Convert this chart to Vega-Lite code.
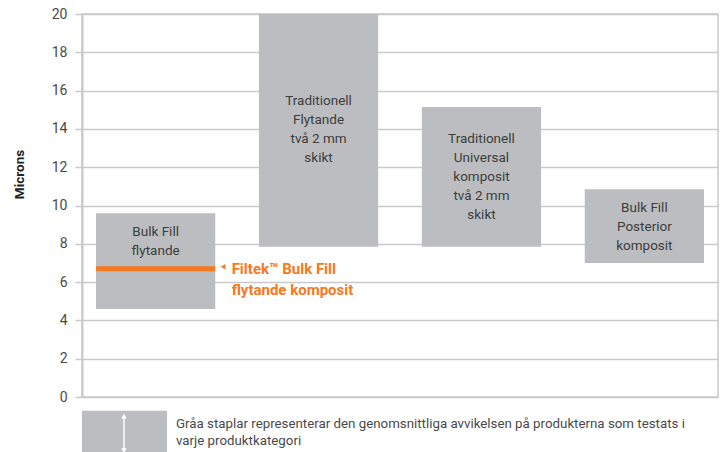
{
  "$schema": "https://vega.github.io/schema/vega-lite/v6.json",
  "width": 636,
  "height": 383,
  "autosize": {"type": "none"},
  "padding": {"left": 82, "top": 14, "right": 6, "bottom": 55},
  "config": {
    "view": {"stroke": "#c8c9cb", "strokeWidth": 1.5},
    "font": "Roboto, Liberation Sans, sans-serif",
    "axisY": {
      "tickCount": 10,
      "labelOverlap": false,
      "gridColor": "#c8c9cb", "gridWidth": 1.5, "gridOpacity": 1,
      "tickColor": "#c8c9cb", "tickWidth": 1.5, "tickSize": 7,
      "domainColor": "#c8c9cb", "domainWidth": 2,
      "labelFontSize": 14, "labelColor": "#4a4a4a", "labelPadding": 8,
      "titleFontSize": 13.5, "titleFontWeight": "bold", "titleColor": "#222222",
      "titleX": -63, "titleY": 160, "titleAlign": "center", "titleBaseline": "middle", "titleAngle": -90
    }
  },
  "datasets": {
    "bars": [
      {"kategori": "Bulk Fill flytande", "low": 4.6, "high": 9.6, "label": "Bulk Fill|flytande"},
      {"kategori": "Traditionell Flytande", "low": 7.85, "high": 20, "label": "Traditionell|Flytande|två 2 mm|skikt"},
      {"kategori": "Traditionell Universal", "low": 7.85, "high": 15.15, "label": "Traditionell|Universal|komposit|två 2 mm|skikt"},
      {"kategori": "Bulk Fill Posterior", "low": 7.0, "high": 10.85, "label": "Bulk Fill|Posterior|komposit"}
    ],
    "filtek": [
      {"kategori": "Bulk Fill flytande", "value": 6.7, "label": "Filtek™ Bulk Fill|flytande komposit"}
    ],
    "legend": [
      {"text": "Gråa staplar representerar den genomsnittliga avvikelsen på produkterna som testats i|varje produktkategori"}
    ]
  },
  "layer": [
    {
      "layer": [
        {
          "data": {"name": "bars"},
          "mark": {"type": "bar", "color": "#bcbdc0"},
          "encoding": {
            "x": {
              "field": "kategori", "type": "nominal", "sort": null,
              "scale": {"paddingInner": 0.268, "paddingOuter": 0.086},
              "axis": null
            },
            "y": {
              "field": "low", "type": "quantitative",
              "scale": {"domain": [0, 20], "nice": false},
              "title": "Microns"
            },
            "y2": {"field": "high"}
          }
        },
        {
          "data": {"name": "bars"},
          "transform": [
            {"filter": "datum.kategori === 'Bulk Fill flytande'"},
            {"fold": ["low", "high"]}
          ],
          "mark": {"type": "text", "lineBreak": "|", "lineHeight": 19, "fontSize": 13.5, "color": "#3d3d3d", "baseline": "middle", "dy": -29},
          "encoding": {
            "x": {"field": "kategori", "type": "nominal", "sort": null},
            "y": {"aggregate": "mean", "field": "value", "type": "quantitative", "title": "Microns"},
            "text": {"field": "label"}
          }
        },
        {
          "data": {"name": "bars"},
          "transform": [
            {"filter": "datum.kategori === 'Traditionell Flytande'"},
            {"fold": ["low", "high"]}
          ],
          "mark": {"type": "text", "lineBreak": "|", "lineHeight": 19, "fontSize": 13.5, "color": "#3d3d3d", "baseline": "middle", "dy": -29},
          "encoding": {
            "x": {"field": "kategori", "type": "nominal", "sort": null},
            "y": {"aggregate": "mean", "field": "value", "type": "quantitative", "title": "Microns"},
            "text": {"field": "label"}
          }
        },
        {
          "data": {"name": "bars"},
          "transform": [
            {"filter": "datum.kategori === 'Traditionell Universal'"},
            {"fold": ["low", "high"]}
          ],
          "mark": {"type": "text", "lineBreak": "|", "lineHeight": 19, "fontSize": 13.5, "color": "#3d3d3d", "baseline": "middle", "dy": -38},
          "encoding": {
            "x": {"field": "kategori", "type": "nominal", "sort": null},
            "y": {"aggregate": "mean", "field": "value", "type": "quantitative", "title": "Microns"},
            "text": {"field": "label"}
          }
        },
        {
          "data": {"name": "bars"},
          "transform": [
            {"filter": "datum.kategori === 'Bulk Fill Posterior'"},
            {"fold": ["low", "high"]}
          ],
          "mark": {"type": "text", "lineBreak": "|", "lineHeight": 19, "fontSize": 13.5, "color": "#3d3d3d", "baseline": "middle", "dy": -18},
          "encoding": {
            "x": {"field": "kategori", "type": "nominal", "sort": null},
            "y": {"aggregate": "mean", "field": "value", "type": "quantitative", "title": "Microns"},
            "text": {"field": "label"}
          }
        },
        {
          "data": {"name": "filtek"},
          "mark": {"type": "tick", "orient": "horizontal", "thickness": 5, "size": 119, "color": "#f47920", "opacity": 1},
          "encoding": {
            "x": {"field": "kategori", "type": "nominal", "sort": null},
            "y": {"field": "value", "type": "quantitative", "title": "Microns"}
          }
        },
        {
          "data": {"name": "filtek"},
          "mark": {"type": "point", "shape": "triangle-left", "filled": true, "size": 30, "color": "#f47920", "opacity": 1, "xOffset": 67.5, "yOffset": -2},
          "encoding": {
            "x": {"field": "kategori", "type": "nominal", "sort": null},
            "y": {"field": "value", "type": "quantitative", "title": "Microns"}
          }
        },
        {
          "data": {"name": "filtek"},
          "mark": {"type": "text", "lineBreak": "|", "lineHeight": 21, "fontSize": 15, "fontWeight": "bold", "color": "#f47920", "align": "left", "baseline": "middle", "dx": 76},
          "encoding": {
            "x": {"field": "kategori", "type": "nominal", "sort": null},
            "y": {"field": "value", "type": "quantitative", "title": "Microns"},
            "text": {"field": "label"}
          }
        }
      ]
    },
    {
      "data": {"name": "legend"},
      "layer": [
        {
          "mark": {"type": "rect", "color": "#bcbdc0", "clip": false},
          "encoding": {
            "x": {"datum": 0, "type": "quantitative", "scale": {"domain": [0, 1], "nice": false, "zero": false}, "axis": null},
            "x2": {"datum": 0.1336},
            "y": {"datum": -0.715, "type": "quantitative", "title": "Microns"},
            "y2": {"datum": -2.95}
          }
        },
        {
          "mark": {"type": "rule", "color": "#ffffff", "strokeWidth": 1.5},
          "encoding": {
            "x": {"datum": 0.066, "type": "quantitative"},
            "y": {"datum": -1.05, "type": "quantitative", "title": "Microns"},
            "y2": {"datum": -2.75}
          }
        },
        {
          "mark": {"type": "point", "shape": "triangle-up", "filled": true, "size": 30, "color": "#ffffff", "opacity": 1},
          "encoding": {
            "x": {"datum": 0.066, "type": "quantitative"},
            "y": {"datum": -1.0, "type": "quantitative", "title": "Microns"}
          }
        },
        {
          "mark": {"type": "point", "shape": "triangle-down", "filled": true, "size": 30, "color": "#ffffff", "opacity": 1},
          "encoding": {
            "x": {"datum": 0.066, "type": "quantitative"},
            "y": {"datum": -2.8, "type": "quantitative", "title": "Microns"}
          }
        },
        {
          "mark": {"type": "text", "lineBreak": "|", "lineHeight": 17, "fontSize": 13.3, "color": "#4a4a4a", "align": "left", "baseline": "middle"},
          "encoding": {
            "x": {"datum": 0.1478, "type": "quantitative"},
            "y": {"datum": -1.41, "type": "quantitative", "title": "Microns"},
            "text": {"field": "text"}
          }
        }
      ]
    }
  ],
  "resolve": {"scale": {"x": "independent"}}
}
